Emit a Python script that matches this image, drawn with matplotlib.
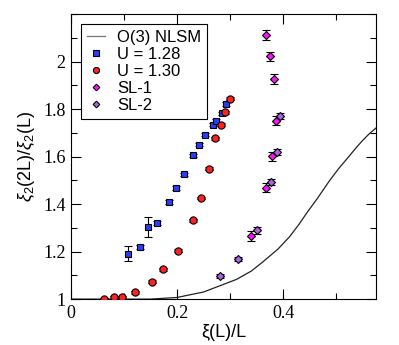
import matplotlib.pyplot as plt
from matplotlib.ticker import MultipleLocator

plt.rcParams['mathtext.fontset'] = 'custom'
plt.rcParams['mathtext.rm'] = 'Liberation Sans'
plt.rcParams['mathtext.it'] = 'Liberation Sans:italic'

# O(3) NLSM curve
nlsm_x = [0.0, 0.10, 0.15, 0.20, 0.25, 0.284, 0.312, 0.340, 0.362, 0.390, 0.412,
          0.430, 0.446, 0.465, 0.488, 0.505, 0.522, 0.538, 0.550, 0.562, 0.575]
nlsm_y = [1.0, 1.0, 1.0, 1.007, 1.03, 1.059, 1.083, 1.118, 1.157, 1.21, 1.262,
          1.315, 1.367, 1.425, 1.500, 1.55, 1.595, 1.638, 1.668, 1.695, 1.720]

# U = 1.28
u128_x = [0.108, 0.130, 0.146, 0.163, 0.185, 0.198, 0.213, 0.231, 0.242, 0.252,
          0.267, 0.274, 0.284, 0.293]
u128_y = [1.192, 1.220, 1.304, 1.320, 1.409, 1.468, 1.525, 1.606, 1.650, 1.692,
          1.734, 1.752, 1.783, 1.822]
u128_err = [0.032, 0.008, 0.042, 0.008, 0.007, 0.007, 0.007, 0.007, 0.007, 0.007,
            0.007, 0.007, 0.007, 0.007]

# U = 1.30
u130_x = [0.062, 0.082, 0.097, 0.121, 0.153, 0.174, 0.201, 0.230, 0.245, 0.260,
          0.271, 0.282, 0.290, 0.299]
u130_y = [1.000, 1.007, 1.010, 1.028, 1.073, 1.125, 1.203, 1.332, 1.426, 1.550,
          1.678, 1.734, 1.787, 1.843]
u130_err = [0.004, 0.005, 0.005, 0.006, 0.006, 0.006, 0.006, 0.006, 0.006, 0.006,
            0.006, 0.006, 0.006, 0.006]

# SL-1
sl1_x = [0.339, 0.368, 0.380, 0.387, 0.383, 0.376, 0.367]
sl1_y = [1.265, 1.469, 1.601, 1.752, 1.927, 2.022, 2.112]
sl1_err = [0.02, 0.02, 0.02, 0.02, 0.022, 0.018, 0.02]

# SL-2
sl2_x = [0.281, 0.315, 0.350, 0.377, 0.389, 0.394]
sl2_y = [1.098, 1.168, 1.290, 1.493, 1.619, 1.770]
sl2_err = [0.008, 0.008, 0.015, 0.012, 0.012, 0.012]

fig = plt.figure(figsize=(3.99, 3.45), dpi=100)
ax = fig.add_axes([0.178, 0.133, 0.764, 0.826])

ax.plot(nlsm_x, nlsm_y, color='#222222', lw=0.9, label='O(3) NLSM')

series = [
    (u128_x, u128_y, u128_err, 's', '#2a3cff', 4.6, 'U = 1.28'),
    (u130_x, u130_y, u130_err, 'o', '#ff2020', 5.2, 'U = 1.30'),
    (sl1_x, sl1_y, sl1_err, 'D', '#ff10ff', 4.0, 'SL-1'),
    (sl2_x, sl2_y, sl2_err, 'D', '#b060e0', 4.0, 'SL-2'),
]
for xs, ys, es, mk, col, ms, lab in series:
    ax.errorbar(xs, ys, yerr=es, fmt='none', ecolor='black', elinewidth=0.8,
                capsize=3, capthick=0.8, zorder=3)
    ax.plot(xs, ys, ls='none', marker=mk, ms=ms, mfc=col, mec='black',
            mew=0.8, label=lab, zorder=4)

ax.set_xlim(0, 0.575)
ax.set_ylim(1, 2.2)
ax.xaxis.set_minor_locator(MultipleLocator(0.1))
ax.yaxis.set_minor_locator(MultipleLocator(0.1))
ax.set_xticks([0, 0.2, 0.4])
ax.set_xticklabels(['0', '0.2', '0.4'])
ax.set_yticks([1, 1.2, 1.4, 1.6, 1.8, 2])
ax.set_yticklabels(['1', '1.2', '1.4', '1.6', '1.8', '2'])
ax.tick_params(which='both', direction='in', top=True, right=True, width=0.8)
ax.tick_params(which='major', length=7, labelsize=13, pad=4)
ax.tick_params(which='minor', length=4)
for lbl in ax.get_xticklabels() + ax.get_yticklabels():
    lbl.set_family('Liberation Serif')

ax.set_xlabel('ξ(L)/L', fontsize=13, family='Liberation Sans', labelpad=2)
ax.set_ylabel(r'$\xi_2$(2L)/$\xi_2$(L)', fontsize=13, family='Liberation Sans', labelpad=4)

leg = ax.legend(loc='upper left', frameon=True, fancybox=False,
                handlelength=1.1, handletextpad=0.7, borderpad=0.35,
                labelspacing=0.12, borderaxespad=0.6, markerscale=0.85,
                prop={'family': 'Liberation Sans', 'size': 12})
leg.get_frame().set_edgecolor('black')
leg.get_frame().set_linewidth(0.8)
leg.get_frame().set_alpha(1)
leg.get_lines()[0].set_color('#777777')

fig.savefig('out.png', dpi=100)
